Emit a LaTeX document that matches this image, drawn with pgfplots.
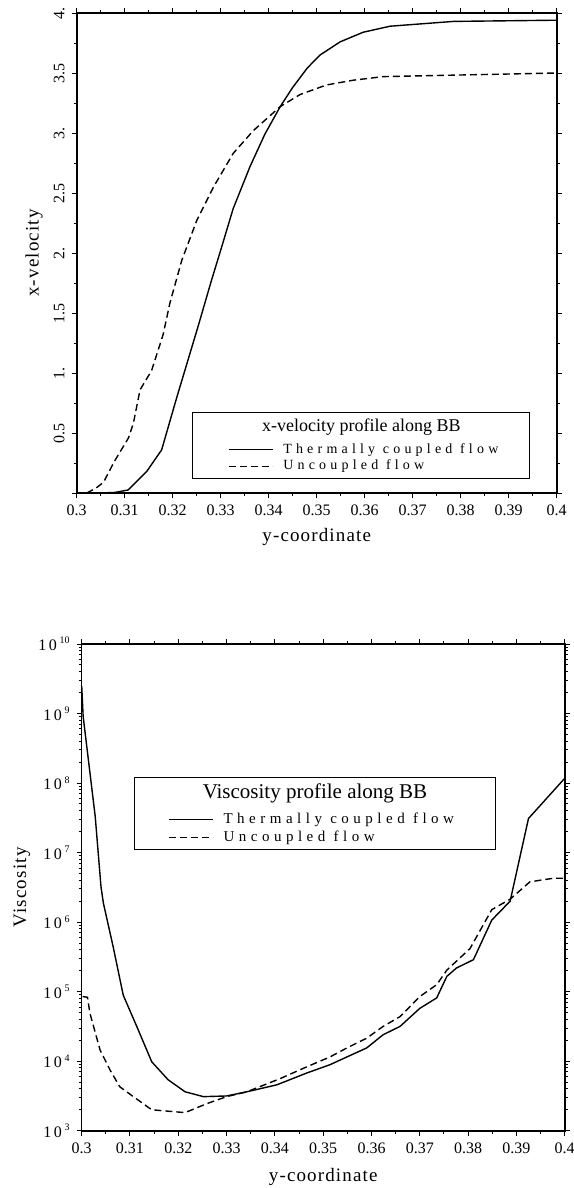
\documentclass[border=0pt]{standalone}
\usepackage{fontspec}
\setmainfont{Liberation Serif}
\newfontfamily\spaced[LetterSpace=30]{Liberation Serif}
\newfontfamily\labfont[LetterSpace=6]{Liberation Serif}
\usepackage{pgfplots}
\pgfplotsset{compat=1.18}

% profiles along BB
\pgfplotstableread{
y u
0.3000 0
0.3050 0
0.3080 0.005
0.3107 0.025
0.3146 0.18
0.3177 0.36
0.3208 0.79
0.3253 1.39
0.3281 1.775
0.3302 2.05
0.3326 2.37
0.3361 2.72
0.3392 2.99
0.3424 3.22
0.3450 3.38
0.3480 3.54
0.3507 3.65
0.3549 3.76
0.3597 3.84
0.3653 3.89
0.3785 3.93
0.4000 3.94
}\velcoupled
\pgfplotstableread{
y u
0.3021 0
0.3040 0.04
0.3056 0.09
0.3078 0.26
0.3108 0.46
0.3118 0.58
0.3132 0.86
0.3156 1.02
0.3180 1.32
0.3194 1.58
0.3219 1.94
0.3250 2.27
0.3285 2.55
0.3326 2.83
0.3368 3.02
0.3424 3.22
0.3465 3.32
0.3520 3.40
0.3576 3.44
0.3639 3.47
0.4000 3.50
}\veluncoupled
\pgfplotstableread{
y mu
0.3000 2.5e9
0.3003 9.1e8
0.3028 3.3e7
0.3040 3.2e6
0.3045 1.86e6
0.3065 4.47e5
0.3086 8.9e4
0.3114 3.16e4
0.3145 9.8e3
0.3179 5.4e3
0.3214 3.63e3
0.3252 3.09e3
0.3300 3.16e3
0.3342 3.63e3
0.3404 4.57e3
0.3466 6.76e3
0.3514 8.9e3
0.3549 1.15e4
0.3590 1.55e4
0.3624 2.4e4
0.3659 3.16e4
0.3700 5.75e4
0.3735 8.13e4
0.3756 1.66e5
0.3776 2.19e5
0.3811 2.88e5
0.3849 1.07e6
0.3887 2.0e6
0.3925 3.09e7
0.4000 1.17e8
}\viscoupled
\pgfplotstableread{
y mu
0.3002 8.5e4
0.3012 8.3e4
0.3017 4.9e4
0.3038 1.45e4
0.3059 7.4e3
0.3079 4.27e3
0.3107 3.09e3
0.3145 2.0e3
0.3214 1.82e3
0.3259 2.45e3
0.3300 3.09e3
0.3342 3.63e3
0.3411 5.62e3
0.3466 8.3e3
0.3514 1.15e4
0.3549 1.55e4
0.3590 2.14e4
0.3624 3.16e4
0.3659 4.37e4
0.3700 8.5e4
0.3735 1.26e5
0.3756 2.04e5
0.3804 4.17e5
0.3849 1.51e6
0.3887 2.14e6
0.3928 3.8e6
0.3976 4.27e6
0.4000 4.27e6
}\visuncoupled

\pgfplotsset{
  bbprofile/.style={
    scale only axis,
    xmin=0.3, xmax=0.4,
    xtick={0.3,0.31,0.32,0.33,0.34,0.35,0.36,0.37,0.38,0.39,0.4},
    xticklabels={0.3,0.31,0.32,0.33,0.34,0.35,0.36,0.37,0.38,0.39,0.4},
    minor x tick num=1,
    tick align=outside,
    major tick length=2.5pt, minor tick length=1.5pt,
    axis line style={line width=0.8pt},
    every tick/.style={black, line width=0.5pt},
    tick label style={font=\fontsize{8}{9}\selectfont},
    label style={font=\labfont\fontsize{9.5}{11}\selectfont},
    xlabel={y-coordinate},
    legend cell align=left,
    legend style={draw=none, fill=none, inner sep=0pt, outer sep=0pt,
      font=\spaced\fontsize{7}{8}\selectfont,
      nodes={inner sep=1pt}, row sep=0pt},
    legend image code/.code={\draw[#1] (0pt,0pt) -- (22pt,0pt); \path (26pt,0pt);},
  },
  solidline/.style={black, line width=0.7pt},
  dashline/.style={black, line width=0.7pt, dash pattern=on 3.5pt off 2pt},
}

\begin{document}
\begin{tikzpicture}
\useasboundingbox (0,0) rectangle (286.5pt,-594pt);

\begin{axis}[bbprofile,
  at={(38.35pt,-246.5pt)}, anchor=south west,
  width=240pt, height=240pt,
  ymin=0, ymax=4,
  ytick={0,0.5,1,1.5,2,2.5,3,3.5,4},
  yticklabels={,0.5,1.,1.5,2.,2.5,3.,3.5,4.},
  minor y tick num=1,
  yticklabel style={rotate=90, anchor=south},
  ylabel={x-velocity},
  ylabel style={at={(axis description cs:-0.089,0.5)}, anchor=center},
  xlabel style={at={(axis description cs:0.5,-0.092)}, anchor=center},
  legend style={at={(axis description cs:0.315,0.108)}, anchor=north west},
]
\draw[line width=0.6pt, fill=white] (axis description cs:0.242,0.031) rectangle (axis description cs:0.944,0.167);
\node[font=\fontsize{9}{10}\selectfont] at (axis description cs:0.593,0.1375) {x-velocity profile along BB};
\addplot[solidline] table[x=y, y=u] {\velcoupled};
\addlegendentry{Thermally coupled flow}
\addplot[dashline] table[x=y, y=u] {\veluncoupled};
\addlegendentry{Uncoupled flow}
\end{axis}

\begin{axis}[bbprofile,
  at={(40.85pt,-565.35pt)}, anchor=south west,
  width=241.5pt, height=243.35pt,
  ymode=log, ymin=1e3, ymax=1e10,
  ytick={1e3,1e4,1e5,1e6,1e7,1e8,1e9,1e10},
  yticklabels={
    1\,0\,\raisebox{0.9ex}{\fontsize{5}{5}\selectfont 3},
    1\,0\,\raisebox{0.9ex}{\fontsize{5}{5}\selectfont 4},
    1\,0\,\raisebox{0.9ex}{\fontsize{5}{5}\selectfont 5},
    1\,0\,\raisebox{0.9ex}{\fontsize{5}{5}\selectfont 6},
    1\,0\,\raisebox{0.9ex}{\fontsize{5}{5}\selectfont 7},
    1\,0\,\raisebox{0.9ex}{\fontsize{5}{5}\selectfont 8},
    1\,0\,\raisebox{0.9ex}{\fontsize{5}{5}\selectfont 9},
    1\,0\,\raisebox{0.9ex}{\fontsize{5}{5}\selectfont 10}},
  ylabel={Viscosity},
  ylabel style={at={(axis description cs:-0.124,0.5)}, anchor=center},
  xlabel style={at={(axis description cs:0.5,-0.095)}, anchor=center},
  legend style={at={(axis description cs:0.179,0.657)}, anchor=north west,
    font=\spaced\fontsize{7.5}{8.5}\selectfont},
]
\draw[line width=0.6pt, fill=white] (axis description cs:0.110,0.578) rectangle (axis description cs:0.856,0.725);
\node[font=\fontsize{10.5}{12}\selectfont] at (axis description cs:0.483,0.694) {Viscosity profile along BB};
\addplot[solidline] table[x=y, y=mu] {\viscoupled};
\addlegendentry{Thermally coupled flow}
\addplot[dashline] table[x=y, y=mu] {\visuncoupled};
\addlegendentry{Uncoupled flow}
\end{axis}
\end{tikzpicture}
\end{document}
